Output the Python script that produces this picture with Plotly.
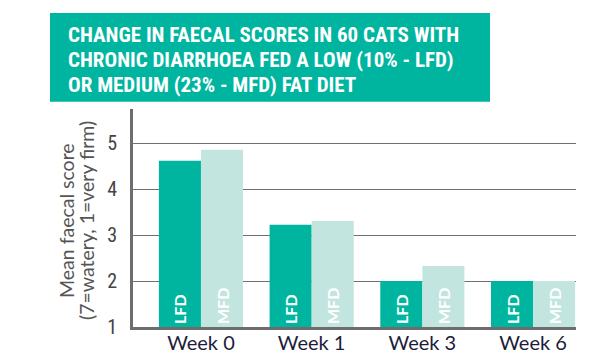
import plotly.graph_objects as go

# ---- data ----
weeks = ["Week 0", "Week 1", "Week 3", "Week 6"]
lfd_scores = [4.62, 3.23, 2.0, 2.0]
mfd_scores = [4.86, 3.31, 2.33, 2.0]
series_names = ["LFD", "MFD"]
y_ticks = [1, 2, 3, 4, 5]
title_lines = [
    "CHANGE IN FAECAL SCORES IN 60 CATS WITH",
    "CHRONIC DIARRHOEA FED A LOW (10% - LFD)",
    "OR MEDIUM (23% - MFD) FAT DIET",
]
y_title_lines = ["Mean faecal score", "(7=watery, 1=very firm)"]

# ---- layout geometry (page pixels; page body has an 8px margin) ----
OFF = 8
W, H = 614 - OFF, 356 - OFF
L, R, T, B = 133 - OFF, 576 - OFF, 109 - OFF, 327 - OFF
pw, ph = R - L, B - T
def px(x): return (x - OFF - L) / pw
def py(y): return (B - (y - OFF)) / ph

TEAL = "#00B5A0"
LIGHT = "#C2E6DF"
COND = "Roboto Condensed, Open Sans Condensed, sans-serif"
base = 1

fig = go.Figure()
for name, vals, col in [(series_names[0], lfd_scores, TEAL), (series_names[1], mfd_scores, LIGHT)]:
    fig.add_trace(go.Bar(
        x=weeks, y=[v - base for v in vals], base=base, name=name,
        marker=dict(color=col, line=dict(width=0)),
        text=[name] * len(vals), textposition="inside", insidetextanchor="start",
        textangle=-90, textfont=dict(family="Lato", size=16, color="white", weight="bold"),
        constraintext="none",
    ))

fig.update_layout(
    width=W, height=H, margin=dict(l=L, r=W - R, t=T, b=H - B, autoexpand=False),
    paper_bgcolor="white", plot_bgcolor="white",
    barmode="group", bargap=0.24, bargroupgap=0, showlegend=False,
    xaxis=dict(type="category", range=[-0.614, 3.388], showline=True, linewidth=3,
               linecolor="#6d6d6d", ticks="", showgrid=False, ticklabelstandoff=-4,
               automargin=False,
               tickfont=dict(family="Lato", size=20, color="#1c1c3a")),
    yaxis=dict(range=[1, 5.75], tickvals=y_ticks, showline=True, linewidth=3,
               linecolor="#6d6d6d", showgrid=True, gridcolor="#707070", gridwidth=1.2,
               ticks="", ticklabelstandoff=9, zeroline=False, automargin=False,
               tickfont=dict(family=COND, size=20, color="#444444")),
)

# title box
fig.add_shape(type="rect", xref="paper", yref="paper",
              x0=px(50), x1=px(490), y0=py(101.7), y1=py(13),
              fillcolor=TEAL, line=dict(width=0), layer="above")
for line, yc in zip(title_lines, [35, 60, 85]):
    fig.add_annotation(xref="paper", yref="paper", x=px(66), y=py(yc),
                       xanchor="left", yanchor="middle", showarrow=False, text=line,
                       font=dict(family=COND, size=21, color="white", weight="bold"))

# y axis title
for line, xc in zip(y_title_lines, [66, 86]):
    fig.add_annotation(xref="paper", yref="paper", x=px(xc), y=py(221),
                       xanchor="center", yanchor="middle", showarrow=False, text=line,
                       textangle=-90,
                       font=dict(family="Lato", size=19.5, color="#555555"))

fig.write_html("out.html")
